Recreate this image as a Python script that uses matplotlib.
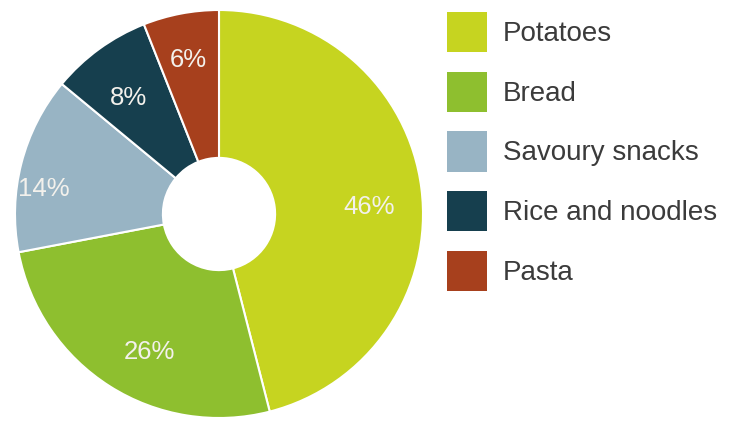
import numpy as np
import matplotlib.pyplot as plt

# values
categories = ["Potatoes", "Bread", "Savoury snacks", "Rice and noodles", "Pasta"]
shares = [46, 26, 14, 8, 6]
colours = ["#c6d420", "#8ebf2f", "#98b4c4", "#163f4e", "#a7401d"]
label_radius = [0.74, 0.74, 0.87, 0.74, 0.79]
label_turn = [-3, 5, 5, 1, 0]  # degrees, nudges hand placed labels

plt.rcParams['font.family'] = ['Liberation Sans', 'DejaVu Sans']

fig = plt.figure(figsize=(7.47, 4.21), dpi=100)
W, H = 747, 421
cx, cy, r = 219, 214, 204
ax = fig.add_axes([(cx - r) / W, (H - cy - r) / H, 2 * r / W, 2 * r / H])

wedges, _ = ax.pie(shares, colors=colours, startangle=90, counterclock=False,
                   radius=1, wedgeprops=dict(width=1 - 0.275, edgecolor="white", linewidth=1.5))

# percentage labels near the middle angle of each wedge
for w, val, rad, turn in zip(wedges, shares, label_radius, label_turn):
    ang = np.deg2rad((w.theta1 + w.theta2) / 2 + turn)
    ax.text(rad * np.cos(ang), rad * np.sin(ang) - 0.02, f"{val}%", ha="center", va="center",
            fontsize=18.5, color="#f3f1ec")

ax.set_xlim(-1, 1)
ax.set_ylim(-1, 1)
ax.set_aspect("equal")
ax.axis("off")

leg = fig.legend(wedges, categories, loc="upper left", bbox_to_anchor=(447 / W, 1 - 12 / H),
                 frameon=False, fontsize=20, handlelength=1.45, handleheight=1.85,
                 labelspacing=0.7, handletextpad=0.55, borderpad=0, borderaxespad=0)
for t in leg.get_texts():
    t.set_color("#3b3b3b")
for p in leg.get_patches():
    p.set_edgecolor("none")

fig.savefig("out.png", dpi=100)
